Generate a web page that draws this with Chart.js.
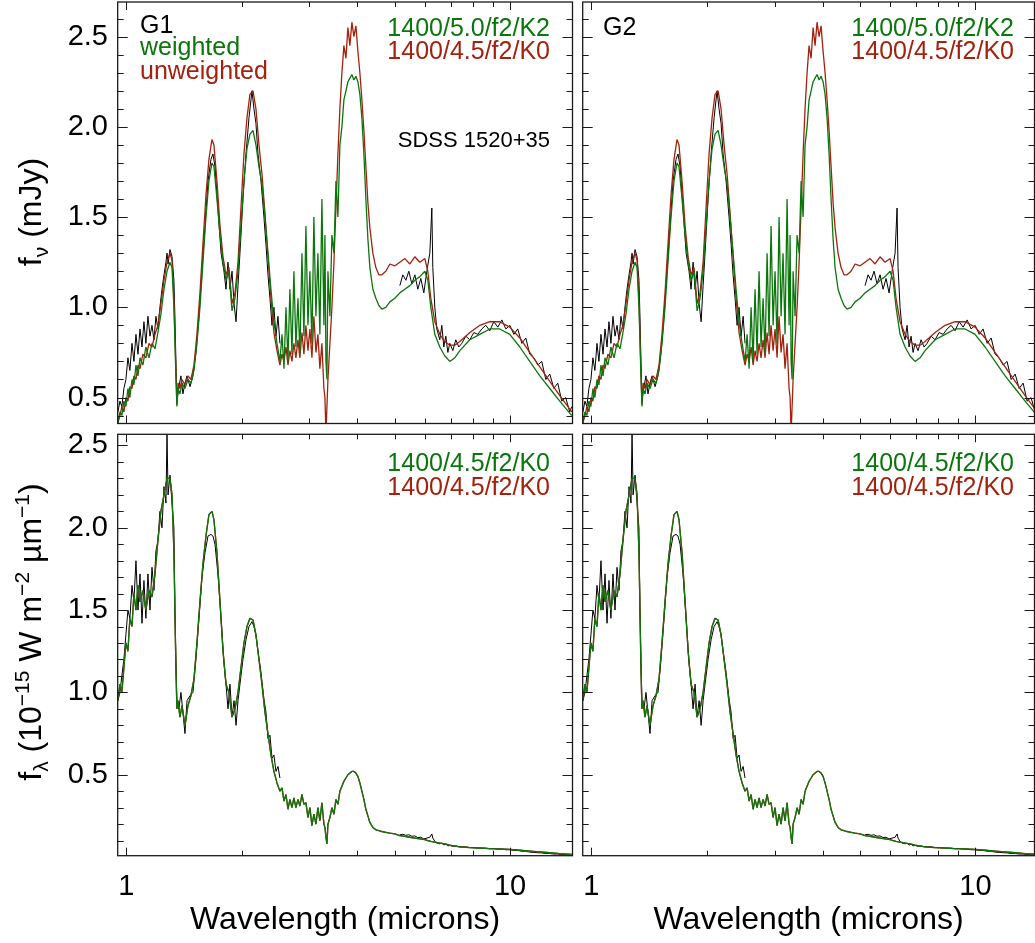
<!DOCTYPE html>
<html>
<head>
<meta charset="utf-8">
<script src="https://cdn.jsdelivr.net/npm/chart.js"></script>
<style>
  body{margin:0;background:#fff;font-family:"Liberation Sans",Arial,Helvetica,sans-serif;}
  #fig{position:relative;width:1035px;height:943px;overflow:hidden;}
  #fig canvas{position:absolute;}
  .lbl{position:absolute;font-size:25px;line-height:25px;white-space:nowrap;color:#000;}
  .g{color:#0b760b;}
  .rd{color:#a3210d;}
  .ytitle{position:absolute;font-size:32px;line-height:32px;white-space:nowrap;transform:translate(-50%,-50%) rotate(-90deg);}
  .ytitle sub,.ytitle sup{font-size:21px;line-height:0;}
</style>
</head>
<body>
<div id="fig">
  <canvas id="tl" width="576" height="426" style="left:0;top:0"></canvas>
  <canvas id="tr" width="459" height="426" style="left:576px;top:0"></canvas>
  <canvas id="bl" width="576" height="513" style="left:0;top:430px"></canvas>
  <canvas id="br" width="459" height="513" style="left:576px;top:430px"></canvas>

  <div class="ytitle" style="left:30px;top:212px">f<sub>ν</sub> (mJy)</div>
  <div class="ytitle" style="left:30px;top:632px">f<sub>λ</sub> (10<sup>−15</sup> W m<sup>−2</sup> µm<sup>−1</sup>)</div>

  <div class="lbl" style="left:140px;top:12px">G1</div>
  <div class="lbl g" style="left:140px;top:34px">weighted</div>
  <div class="lbl rd" style="left:140px;top:58px">unweighted</div>
  <div class="lbl g" style="right:485px;top:15px">1400/5.0/f2/K2</div>
  <div class="lbl rd" style="right:485px;top:38px">1400/4.5/f2/K0</div>
  <div class="lbl" style="right:485px;top:129px;font-size:22px;line-height:22px">SDSS 1520+35</div>

  <div class="lbl" style="left:603px;top:14px">G2</div>
  <div class="lbl g" style="right:21px;top:15px">1400/5.0/f2/K2</div>
  <div class="lbl rd" style="right:21px;top:38px">1400/4.5/f2/K0</div>

  <div class="lbl g" style="right:485px;top:450px">1400/4.5/f2/K0</div>
  <div class="lbl rd" style="right:485px;top:474px">1400/4.5/f2/K0</div>
  <div class="lbl g" style="right:21px;top:450px">1400/4.5/f2/K0</div>
  <div class="lbl rd" style="right:21px;top:474px">1400/4.5/f2/K0</div>
</div>

<script>
// ---- data (wavelength in microns) ----
const X_LABELS = [1, 10];
const X_TICKS = [1, 2, 3, 4, 5, 6, 7, 8, 9, 10];
const Y_LABELS = [0.5, 1.0, 1.5, 2.0, 2.5];

// model grid
const MODEL_WAVE = [
  0.951,0.963,0.974,0.986,0.998,1.010,1.022,1.035,1.047,1.060,
  1.073,1.086,1.105,1.125,1.146,1.167,1.188,1.209,1.231,1.254,
  1.277,1.300,1.316,1.331,1.347,1.355,1.364,1.380,1.397,1.422,
  1.448,1.474,1.501,1.528,1.556,1.584,1.613,1.642,1.672,1.692,
  1.723,1.755,1.787,1.819,1.852,1.886,1.920,1.955,1.990,2.026,
  2.063,2.100,2.139,2.177,2.217,2.257,2.298,2.340,2.382,2.425,
  2.470,2.514,2.545,2.576,2.607,2.638,2.669,2.702,2.734,2.767,
  2.801,2.834,2.869,2.903,2.938,2.974,3.009,3.046,3.082,3.120,
  3.157,3.195,3.234,3.273,3.293,3.313,3.333,3.353,3.393,3.434,
  3.476,3.518,3.560,3.602,3.646,3.690,3.735,3.780,3.825,3.871,
  3.918,3.965,4.013,4.061,4.110,4.160,4.210,4.261,4.312,4.390,
  4.470,4.551,4.633,4.745,4.861,5.009,5.161,5.318,5.480,5.647,
  5.819,5.996,6.105,6.215,6.366,6.560,6.760,6.965,7.177,7.396,
  7.853,8.338,8.853,9.400,9.98,10.60,11.25,11.95,12.69,13.47,14.48
];
// 1400/5.0/f2/K2, f_nu (mJy)
const FNU_K2 = [
  0.36,0.42,0.40,0.48,0.45,0.55,0.50,0.60,0.57,0.68,
  0.62,0.72,0.68,0.78,0.72,0.80,0.77,0.86,0.96,1.10,
  1.20,1.25,1.22,1.00,0.62,0.45,0.55,0.52,0.58,0.55,
  0.60,0.58,0.65,0.80,1.00,1.25,1.50,1.70,1.80,1.78,
  1.60,1.40,1.25,1.15,1.20,0.98,1.05,1.20,1.45,1.70,
  1.88,1.96,1.98,1.90,1.78,1.68,1.50,1.30,1.10,0.92,
  0.80,0.70,0.85,0.66,1.00,0.70,1.10,0.74,1.20,0.78,
  1.05,0.74,1.30,0.84,1.45,0.90,1.20,0.80,1.50,0.95,
  1.30,0.85,1.60,0.90,1.40,0.70,0.60,1.20,0.95,1.40,
  1.30,1.70,1.50,1.90,2.00,2.15,2.20,2.25,2.27,2.29,
  2.26,2.28,2.25,2.18,2.05,1.85,1.60,1.38,1.22,1.10,
  1.05,1.01,0.99,1.00,1.03,1.05,1.08,1.10,1.12,1.15,
  1.17,1.20,1.15,1.00,0.85,0.78,0.73,0.70,0.72,0.76,
  0.82,0.85,0.88,0.88,0.85,0.78,0.70,0.62,0.55,0.48,0.40
];
// 1400/4.5/f2/K0, f_nu (mJy)
const FNU_K0 = [
  0.36,0.40,0.45,0.42,0.50,0.48,0.56,0.55,0.62,0.60,
  0.68,0.66,0.74,0.72,0.80,0.78,0.85,0.90,1.02,1.15,
  1.25,1.30,1.26,1.05,0.65,0.46,0.58,0.55,0.60,0.57,
  0.62,0.60,0.68,0.85,1.08,1.35,1.62,1.82,1.93,1.90,
  1.70,1.45,1.28,1.18,1.22,1.02,1.08,1.25,1.55,1.85,
  2.05,2.18,2.20,2.10,1.90,1.74,1.52,1.28,1.05,0.86,
  0.76,0.68,0.74,0.70,0.78,0.68,0.76,0.70,0.80,0.72,
  0.82,0.72,0.86,0.74,0.90,0.76,0.88,0.72,0.95,0.75,
  0.85,0.66,0.80,0.55,0.50,0.30,0.45,0.60,0.80,1.00,
  1.25,1.55,1.85,2.10,2.30,2.45,2.38,2.55,2.45,2.58,
  2.50,2.56,2.42,2.30,2.15,1.98,1.78,1.58,1.44,1.30,
  1.22,1.18,1.18,1.20,1.24,1.23,1.25,1.27,1.24,1.28,
  1.25,1.27,1.20,1.05,0.92,0.85,0.81,0.79,0.79,0.81,
  0.86,0.90,0.92,0.92,0.89,0.83,0.75,0.67,0.59,0.51,0.42
];
// 1400/4.5/f2/K0, f_lambda (1e-15 W m-2 um-1)
const FLAM_K0 = [
  0.95,1.05,1.00,1.15,1.30,1.25,1.45,1.40,1.60,1.50,
  1.65,1.55,1.62,1.50,1.62,1.58,1.72,1.92,2.10,2.20,
  2.30,2.30,2.20,1.85,1.15,0.90,0.95,0.85,0.92,0.80,
  0.92,0.98,1.08,1.30,1.55,1.78,1.95,2.08,2.10,2.05,
  1.85,1.55,1.25,1.05,1.00,0.85,0.90,1.00,1.15,1.30,
  1.40,1.45,1.44,1.35,1.20,1.05,0.88,0.75,0.62,0.52,
  0.45,0.40,0.42,0.34,0.38,0.29,0.35,0.30,0.36,0.30,
  0.35,0.31,0.38,0.32,0.33,0.24,0.30,0.19,0.26,0.20,
  0.30,0.22,0.33,0.20,0.18,0.12,0.08,0.20,0.24,0.30,
  0.26,0.35,0.32,0.40,0.43,0.46,0.48,0.50,0.51,0.52,
  0.52,0.51,0.49,0.45,0.40,0.35,0.29,0.25,0.21,0.18,
  0.165,0.16,0.155,0.15,0.145,0.14,0.13,0.125,0.12,0.115,
  0.11,0.105,0.10,0.095,0.09,0.085,0.08,0.072,0.066,0.062,
  0.057,0.054,0.051,0.049,0.046,0.041,0.036,0.031,0.026,0.021,0.016
];

// observed SDSS 1520+35: near-IR and mid-IR pieces, [wavelength, flux]
const OBS_FNU_NIR = [
  [0.951,0.42],[0.963,0.48],[0.974,0.45],[0.986,0.55],[0.998,0.60],[1.010,0.72],[1.022,0.65],[1.035,0.80],
  [1.047,0.70],[1.060,0.85],[1.073,0.74],[1.086,0.88],[1.099,0.78],[1.112,0.92],[1.125,0.80],[1.139,0.95],
  [1.153,0.84],[1.167,0.90],[1.181,0.82],[1.195,0.95],[1.209,0.88],[1.224,1.00],[1.239,1.10],[1.254,1.18],
  [1.269,1.25],[1.277,1.30],[1.285,1.24],[1.300,1.32],[1.316,1.28],[1.331,1.15],[1.339,0.95],[1.347,0.70],
  [1.355,0.48],[1.372,0.56],[1.388,0.62],[1.405,0.52],[1.422,0.58],[1.440,0.62],[1.466,0.56],[1.492,0.62],
  [1.519,0.75],[1.547,0.95],[1.575,1.20],[1.604,1.45],[1.633,1.70],[1.662,1.82],[1.682,1.85],[1.703,1.78],
  [1.733,1.55],[1.766,1.30],[1.797,1.20],[1.819,1.10],[1.841,1.25],[1.863,1.10],[1.886,1.20],[1.909,1.02],
  [1.932,0.92],[1.955,1.12],[1.978,1.30],[2.014,1.60],[2.051,1.85],[2.088,2.05],[2.126,2.20],[2.151,2.10],
  [2.177,2.02],[2.204,1.85],[2.244,1.70],[2.284,1.50],[2.312,1.35],[2.340,1.18],[2.368,1.05],[2.397,0.90],
  [2.425,1.00],[2.455,0.84],[2.485,0.95],[2.514,0.80]
];
const OBS_FNU_MIR = [
  [5.161,1.12],[5.255,1.18],[5.350,1.15],[5.447,1.20],[5.546,1.13],[5.647,1.18],[5.749,1.10],[5.854,1.16],
  [5.960,1.08],[6.069,1.20],[6.178,1.30],[6.253,1.55],[6.290,1.22],[6.366,1.00],[6.443,0.88],[6.560,0.82],
  [6.639,0.90],[6.719,0.78],[6.800,0.84],[6.883,0.75],[6.965,0.80],[7.092,0.76],[7.220,0.82],[7.351,0.78],
  [7.485,0.80],[7.666,0.84],[7.853,0.82],[8.044,0.86],[8.239,0.85],[8.439,0.88],[8.645,0.90],[8.853,0.87],
  [9.069,0.92],[9.290,0.89],[9.515,0.93],[9.747,0.88],[9.984,0.90],[10.23,0.85],[10.47,0.88],[10.73,0.80],
  [10.99,0.83],[11.25,0.74],[11.53,0.72],[11.81,0.68],[12.09,0.70],[12.39,0.60],[12.69,0.63],[13.00,0.55],
  [13.31,0.58],[13.63,0.48],[13.96,0.50],[14.30,0.42],[14.48,0.45]
];
const OBS_FLAM_NIR = [
  [0.951,0.95],[0.963,1.00],[0.974,1.10],[0.986,1.20],[0.998,1.35],[1.010,1.50],[1.022,1.45],[1.035,1.65],
  [1.047,1.55],[1.060,1.80],[1.073,1.50],[1.086,1.72],[1.099,1.42],[1.112,1.68],[1.125,1.45],[1.139,1.72],
  [1.153,1.50],[1.167,1.76],[1.181,1.62],[1.195,1.86],[1.209,1.92],[1.224,2.10],[1.239,2.00],[1.254,2.25],
  [1.269,2.15],[1.277,2.58],[1.285,2.20],[1.300,2.32],[1.316,2.15],[1.331,2.00],[1.339,1.50],[1.347,1.20],
  [1.355,0.95],[1.372,0.90],[1.388,1.00],[1.405,0.88],[1.422,0.75],[1.440,0.95],[1.466,0.98],[1.492,1.00],
  [1.519,1.20],[1.547,1.45],[1.575,1.70],[1.604,1.85],[1.633,1.95],[1.662,1.96],[1.682,1.95],[1.703,1.90],
  [1.733,1.72],[1.766,1.45],[1.797,1.18],[1.819,1.05],[1.841,0.90],[1.863,1.05],[1.886,0.85],[1.909,0.95],
  [1.932,0.80],[1.955,0.95],[1.978,1.05],[2.014,1.20],[2.051,1.32],[2.088,1.40],[2.126,1.43],[2.151,1.40],
  [2.177,1.35],[2.204,1.25],[2.244,1.12],[2.284,0.96],[2.312,0.88],[2.340,0.72],[2.368,0.74],[2.397,0.60],
  [2.425,0.62],[2.455,0.52],[2.485,0.55],[2.514,0.48]
];
const OBS_FLAM_MIR = [
  [5.161,0.135],[5.255,0.138],[5.350,0.132],[5.447,0.135],[5.546,0.126],[5.647,0.128],[5.749,0.118],[5.854,0.120],
  [5.960,0.110],[6.069,0.115],[6.178,0.120],[6.253,0.140],[6.290,0.115],[6.366,0.095],[6.443,0.085],[6.560,0.080],
  [6.639,0.085],[6.719,0.073],[6.800,0.078],[6.883,0.068],[6.965,0.070],[7.092,0.065],[7.220,0.068],[7.351,0.063],
  [7.485,0.062],[7.666,0.062],[7.853,0.058],[8.044,0.058],[8.239,0.055],[8.439,0.055],[8.645,0.054],[8.853,0.050],
  [9.069,0.051],[9.290,0.048],[9.515,0.048],[9.747,0.044],[9.984,0.044],[10.23,0.040],[10.47,0.040],[10.73,0.035],
  [10.99,0.035],[11.25,0.030],[11.53,0.028],[11.81,0.026],[12.09,0.025],[12.39,0.021],[12.69,0.021],[13.00,0.018],
  [13.31,0.018],[13.63,0.015],[13.96,0.015],[14.30,0.012],[14.48,0.012]
];

const GREEN = '#0b760b', RED = '#a3210d', BLACK = '#000';
const FONT = '"Liberation Sans", Arial, Helvetica, sans-serif';

const zip = (w, f) => w.map((x, i) => ({ x, y: f[i] }));
const pts = arr => arr.map(([x, y]) => ({ x, y }));

function line(data, color, width){
  return { data, borderColor: color, borderWidth: width, pointRadius: 0, fill: false, tension: 0, borderJoinStyle: 'bevel' };
}

// box + inward ticks on all four sides (IDL style)
const frameTicks = {
  id: 'frameTicks',
  afterDatasetsDraw(chart){
    const { ctx, chartArea: a } = chart;
    const x = chart.scales.x, y = chart.scales.y;
    ctx.save();
    ctx.strokeStyle = '#1a1a1a';
    ctx.lineWidth = 1.3;
    ctx.strokeRect(a.left, a.top, a.right - a.left, a.bottom - a.top);
    ctx.lineWidth = 1;
    ctx.beginPath();
    X_TICKS.forEach(v => {
      const px = Math.round(x.getPixelForValue(v)) + 0.5;
      if (px < a.left || px > a.right) return;
      const len = X_LABELS.includes(v) ? 8 : 5;
      ctx.moveTo(px, a.bottom); ctx.lineTo(px, a.bottom - len);
      ctx.moveTo(px, a.top); ctx.lineTo(px, a.top + len);
    });
    for (let k = 1; k <= 26; k++){
      const v = k / 10;
      const py = Math.round(y.getPixelForValue(v)) + 0.5;
      if (py < a.top || py > a.bottom) continue;
      const len = k % 5 === 0 ? 10 : 6;
      ctx.moveTo(a.left, py); ctx.lineTo(a.left + len, py);
      ctx.moveTo(a.right, py); ctx.lineTo(a.right - len, py);
    }
    ctx.stroke();
    ctx.restore();
  }
};

function noPad(s){
  s.paddingTop = 0; s.paddingBottom = 0; s.paddingLeft = 0; s.paddingRight = 0;
}

function makePanel(id, p){
  const datasets = p.kind === 'fnu'
    ? [ line(zip(MODEL_WAVE, FNU_K2), GREEN, 1.3),
        line(zip(MODEL_WAVE, FNU_K0), RED, 1.3),
        line(pts(OBS_FNU_NIR), BLACK, 1),
        line(pts(OBS_FNU_MIR), BLACK, 1) ]
    : [ line(zip(MODEL_WAVE, FLAM_K0), GREEN, 1.3),
        line(zip(MODEL_WAVE, FLAM_K0), RED, 1.3),
        line(pts(OBS_FLAM_NIR), BLACK, 1),
        line(pts(OBS_FLAM_MIR), BLACK, 1) ];

  return new Chart(document.getElementById(id), {
    type: 'line',
    data: { datasets },
    options: {
      responsive: false,
      animation: false,
      events: [],
      layout: { padding: p.pad },
      plugins: { legend: { display: false }, tooltip: { enabled: false } },
      scales: {
        x: {
          type: 'logarithmic', min: 0.95, max: p.xmax, display: p.showX,
          afterFit(s){ noPad(s); if (p.showX) s.height = 87.3; },
          afterBuildTicks(s){ s.ticks = X_LABELS.map(v => ({ value: v })); },
          grid: { display: false, drawTicks: false }, border: { display: false },
          ticks: { autoSkip: false, maxRotation: 0, padding: 14, color: '#000',
                   font: { size: 29, family: FONT }, callback: v => String(v) },
          title: { display: true, text: 'Wavelength (microns)', color: '#000',
                   font: { size: 32, family: FONT }, padding: { top: 0, bottom: 4 } }
        },
        y: {
          type: 'linear', min: p.ymin, max: p.ymax, display: p.showY,
          afterFit(s){ noPad(s); if (p.showY) s.width = 117.7; },
          afterBuildTicks(s){ s.ticks = Y_LABELS.map(v => ({ value: v })); },
          grid: { display: false, drawTicks: false }, border: { display: false },
          ticks: { padding: 9.7, color: '#000', font: { size: 29, family: FONT },
                   callback: v => v.toFixed(1) }
        }
      }
    },
    plugins: [frameTicks]
  });
}

makePanel('tl', { kind: 'fnu', xmax: 14.54, ymin: 0.356, ymax: 2.692, showX: false, showY: true,
  pad: { left: 0, top: 2, right: 3.5, bottom: 2.5 } });
makePanel('tr', { kind: 'fnu', xmax: 14.25, ymin: 0.356, ymax: 2.692, showX: false, showY: false,
  pad: { left: 6.7, top: 2, right: 0.5, bottom: 2.5 } });
makePanel('bl', { kind: 'flam', xmax: 14.54, ymin: 0.008, ymax: 2.568, showX: true, showY: true,
  pad: { left: 0, top: 4.3, right: 3.5, bottom: 0 } });
makePanel('br', { kind: 'flam', xmax: 14.25, ymin: 0.008, ymax: 2.568, showX: true, showY: false,
  pad: { left: 6.7, top: 4.3, right: 0.5, bottom: 0 } });
</script>
</body>
</html>
